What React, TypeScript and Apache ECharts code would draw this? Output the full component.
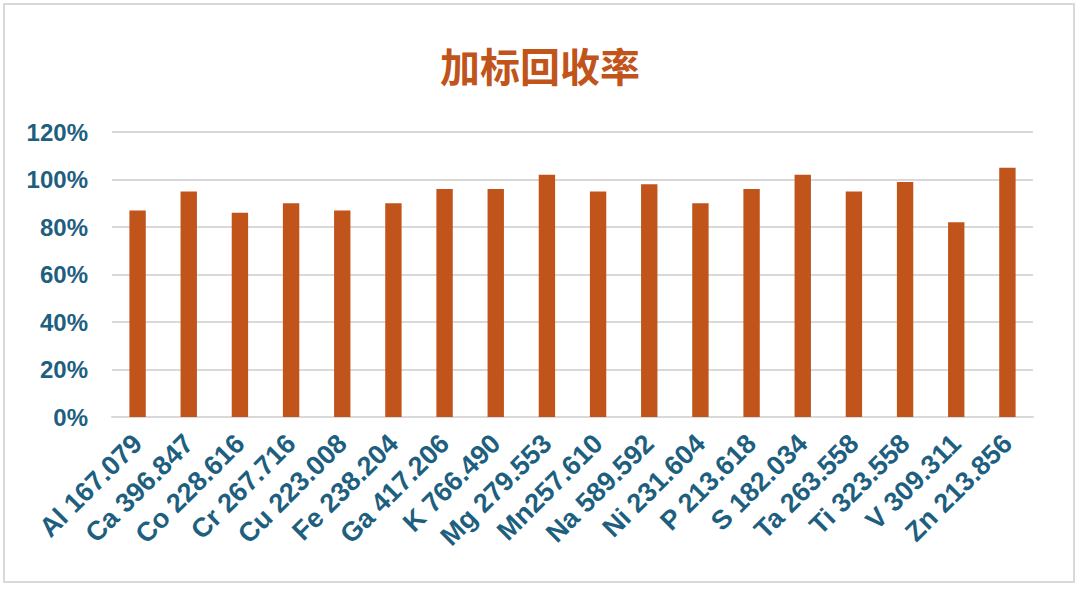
import { useEffect, useRef } from 'react'
import * as echarts from 'echarts'

const chartTitle = '加标回收率'

const elements = [
  'Al 167.079',
  'Ca 396.847',
  'Co 228.616',
  'Cr 267.716',
  'Cu 223.008',
  'Fe 238.204',
  'Ga 417.206',
  'K 766.490',
  'Mg 279.553',
  'Mn257.610',
  'Na 589.592',
  'Ni 231.604',
  'P 213.618',
  'S 182.034',
  'Ta 263.558',
  'Ti 323.558',
  'V 309.311',
  'Zn 213.856',
]

// recovery, percent
const recovery = [87, 95, 86, 90, 87, 90, 96, 96, 102, 95, 98, 90, 96, 102, 95, 99, 82, 105]

const barColor = '#C0541A'
const labelColor = '#1E5F80'
const gridColor = '#D9D9D9'

export default function App() {
  const chartRef = useRef<HTMLDivElement>(null)

  useEffect(() => {
    if (!chartRef.current) return
    const chart = echarts.init(chartRef.current, null, { renderer: 'svg' })

    const option: echarts.EChartsOption = {
      animation: false,
      backgroundColor: '#ffffff',
      title: {
        text: chartTitle,
        left: 'center',
        top: 40,
        textStyle: {
          fontSize: 40,
          fontWeight: 'bold',
          color: barColor,
          fontFamily: '"Noto Sans CJK SC", sans-serif',
        },
      },
      graphic: [
        {
          type: 'rect',
          shape: { x: 4, y: 4, width: 1070, height: 578 },
          style: { fill: 'none', stroke: gridColor, lineWidth: 2 },
          silent: true,
        },
      ],
      grid: { left: 112, right: 47, top: 132, bottom: 175 },
      xAxis: {
        type: 'category',
        data: elements,
        axisTick: { show: false },
        axisLine: { lineStyle: { color: gridColor, width: 2 } },
        axisLabel: {
          interval: 0,
          rotate: 45,
          margin: 22,
          color: labelColor,
          fontSize: 27,
          fontWeight: 'bold',
          fontFamily: '"Liberation Sans", Arial, sans-serif',
        },
      },
      yAxis: {
        type: 'value',
        min: 0,
        max: 120,
        interval: 20,
        axisLine: { show: false },
        axisTick: { show: false },
        splitLine: { lineStyle: { color: gridColor, width: 2 } },
        axisLabel: {
          formatter: '{value}%',
          margin: 24,
          color: labelColor,
          fontSize: 24,
          fontWeight: 'bold',
          fontFamily: '"Liberation Sans", Arial, sans-serif',
        },
      },
      series: [
        {
          type: 'bar',
          data: recovery,
          barWidth: '32%',
          itemStyle: { color: barColor },
        },
      ],
    }

    chart.setOption(option)
    return () => {
      chart.dispose()
    }
  }, [])

  return (
    <div style={{ position: 'fixed', left: 0, top: 0, width: 1080, height: 592, background: '#fff' }}>
      <div ref={chartRef} style={{ width: 1080, height: 592 }} />
    </div>
  )
}
